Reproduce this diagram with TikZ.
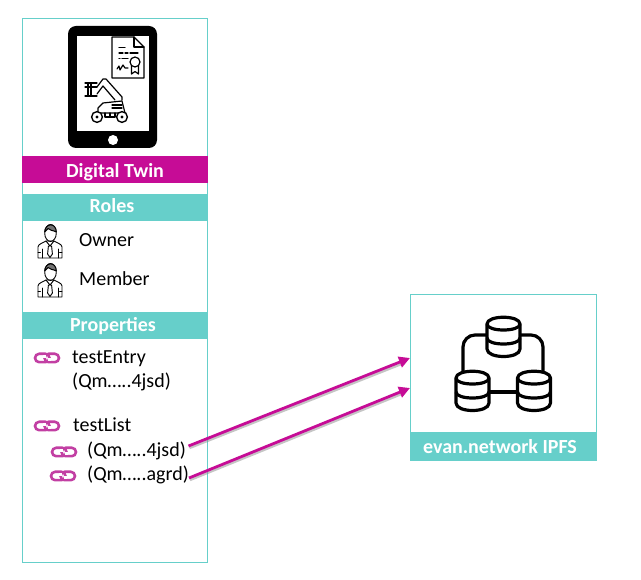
\documentclass[tikz,border=0pt]{standalone}
\usepackage{fontspec}
\setmainfont{Carlito}
\usetikzlibrary{arrows.meta}
\definecolor{teal1}{HTML}{66CFCA}
\definecolor{mag}{HTML}{C60C96}
\definecolor{linkc}{HTML}{C23FA3}
\tikzset{
  x=1pt,y=-1pt,
  outerbox/.style={draw=teal1,line width=0.9pt,fill=white},
  bar/.style={fill=teal1,draw=none,inner sep=0pt,anchor=north west},
  bartext/.style={anchor=base,inner sep=0pt,text=white,font=\fontsize{20}{22}\selectfont\bfseries},
  lab/.style={anchor=base west,inner sep=0pt,font=\fontsize{20}{22}\selectfont,text=black},
  conn/.style={draw=mag,line width=2.8pt,-{Triangle[length=11pt,width=11pt]}},
  shadowc/.style={draw=black!45,line width=2.4pt,opacity=.5},
  icon/.style={draw=black,line width=1.2pt,line join=round,line cap=round},
  db/.style={draw=black,line width=3.2pt,fill=white,line join=round},
  linkicon/.pic={
    \draw[linkc,line width=2.6pt,rounded corners=4.2pt] (-12,-4.2) rectangle (2.5,4.2);
    \draw[linkc,line width=2.6pt,rounded corners=4.2pt] (-2.5,-4.2) rectangle (12,4.2);
    \fill[white] (-3.8,-3) rectangle (-1.2,0.3);
    \fill[white] (1.2,-0.3) rectangle (3.8,3);
  },
  personicon/.pic={
    \draw[icon,line width=.9pt] (0.5,-8) ellipse (5.8 and 8.5);
    \draw[icon,line width=1pt,fill=black!55] (-5.3,-9) .. controls (-5,-18) and (6,-19) .. (6.3,-9) .. controls (3,-11) and (0,-10) .. (-2,-12.5) .. controls (-3,-11) and (-4.5,-10) .. (-5.3,-9) -- cycle;
    \draw[icon,line width=.9pt] (-12,17) -- (-12,6) .. controls (-12,3) and (-7,2) .. (-4,0) -- (4,0) .. controls (7,2) and (12,3) .. (12,6) -- (12,17) -- cycle;
    \draw[icon,line width=.9pt] (-4,0) -- (0,5) -- (4,0);
    \draw[icon,line width=.9pt] (-1.6,5) -- (1.6,5) -- (2.4,13) -- (0,16.5) -- (-2.4,13) -- cycle;
    \draw[icon,line width=.9pt] (-8,8) -- (-8,17) (8,8) -- (8,17) (-12,11) -- (-9.5,11) (12,11) -- (9.5,11);
  },
  dbicon/.pic={
    \draw[db] (-16.5,-13) -- (-16.5,12) .. controls (-16.5,22) and (16.5,22) .. (16.5,12) -- (16.5,-13) .. controls (16.5,-22) and (-16.5,-22) .. (-16.5,-13) -- cycle;
    \draw[db,fill=none] (-16.5,-13) .. controls (-16.5,-5) and (16.5,-5) .. (16.5,-13);
    \draw[db,fill=none] (-16.5,1) .. controls (-16.5,9) and (16.5,9) .. (16.5,1);
  },
}
\begin{document}
\begin{tikzpicture}
\useasboundingbox (0,0) rectangle (641,580);
\fill[white] (0,0) rectangle (641,580);
% left panel
\node[outerbox,anchor=north west,minimum width=185pt,minimum height=544pt,inner sep=0pt] (panel) at (22,18) {};
% tablet
\fill[black,rounded corners=8pt] (68,26) rectangle (157,148);
\fill[white] (77,36) rectangle (149,131);
\fill[white] (113,140) circle (5);
% certificate
\draw[icon] (112,37) -- (134,37) -- (144,47) -- (144,78) -- (112,78) -- cycle;
\draw[icon] (134,37) -- (134,47) -- (144,47);
\draw[icon] (119,47.5) -- (125,47.5) (119,53) -- (123,53) (125,53) -- (128,53) (130,53) -- (138,53) (119,58.5) -- (120,58.5) (122,58.5) -- (128,58.5);
\draw[icon] (117,69) -- (119,66) -- (120,70) -- (123,65) -- (125,68) -- (128,68);
\draw[icon,fill=white] (135,62) circle (5);
\draw[icon] (131.5,66) -- (131.5,74) -- (135,71.5) -- (138.5,74) -- (138.5,66);
% excavator
\draw[icon] (85,83) -- (97,83) (85,96) -- (97,96) (88,83) -- (88,96) (91,83) -- (91,96) (85,87) -- (97,87);
\draw[icon] (97,87) -- (103,79) -- (106,79) -- (122,97) -- (122,100) (97,94) -- (103,86) -- (115,100);
\draw[icon] (98,108) -- (103,103) -- (122,101) -- (125,113) -- (98,113) -- cycle;
\draw[icon] (105,113) -- (105,117) -- (115,117) -- (115,113) (110,113) -- (110,117) (112,105) -- (122,105) (112,108) -- (122,108);
\draw[icon,line width=1.4pt,fill=white] (97,117) circle (5.4);
\fill (97,117) circle (1.6);
\draw[icon,line width=1.4pt,fill=white] (122,117) circle (5.4);
\fill (122,117) circle (1.6);
% bars
\node[bar,minimum width=185.5pt,minimum height=27pt,fill=mag] (twin) at (22,156) {};
\node[bartext] (twintext) at (115,178) {Digital Twin};
\node[bar,minimum width=185.5pt,minimum height=27pt] (roles) at (22,194) {};
\node[bartext] (rolestext) at (112,213) {Roles};
\node[bar,minimum width=185.5pt,minimum height=27pt] (props) at (22,312) {};
\node[bartext] (propstext) at (113,332) {Properties};
% roles
\pic at (50,241) {personicon};
\pic at (50,280) {personicon};
\node[lab] (owner) at (79,247) {Owner};
\node[lab] (member) at (79,286) {Member};
% properties
\pic at (47,358) {linkicon};
\pic at (47,426) {linkicon};
\pic at (64,452) {linkicon};
\pic at (63,476) {linkicon};
\node[lab] (entry) at (72,364) {testEntry};
\node[lab] (entryq) at (72,388) {(Qm…..4jsd)};
\node[lab] (list) at (73,432) {testList};
\node[lab] (qa) at (87,457) {(Qm…..4jsd)};
\node[lab] (qb) at (87,481) {(Qm…..agrd)};
% right panel
\node[outerbox,anchor=north west,minimum width=186pt,minimum height=166pt,inner sep=0pt] (ipfs) at (410,294) {};
\node[bar,minimum width=186.5pt,minimum height=28pt] (ipfsbar) at (410,432) {};
\node[bartext] (ipfstext) at (500,454) {evan.network IPFS};
\draw[draw=black,line width=3.2pt,rounded corners=12pt] (463,375) -- (463,335) -- (543,335) -- (543,375);
\draw[draw=black,line width=3.2pt] (472,392) -- (534,392);
\pic at (503.5,337) {dbicon};
\pic at (472.5,391) {dbicon};
\pic at (534,391) {dbicon};
% connectors
\coordinate (ta) at (410,358);
\coordinate (tb) at (410,388);
\coordinate (sa) at (188.5,446);
\coordinate (sb) at (189,478);
\draw[shadowc] ([shift={(1,2)}]sa) -- ([shift={(-6,5)}]ta);
\draw[shadowc] ([shift={(1,2)}]sb) -- ([shift={(-6,5)}]tb);
\draw[conn] (sa) -- (ta);
\draw[conn] (sb) -- (tb);
\end{tikzpicture}
\end{document}
